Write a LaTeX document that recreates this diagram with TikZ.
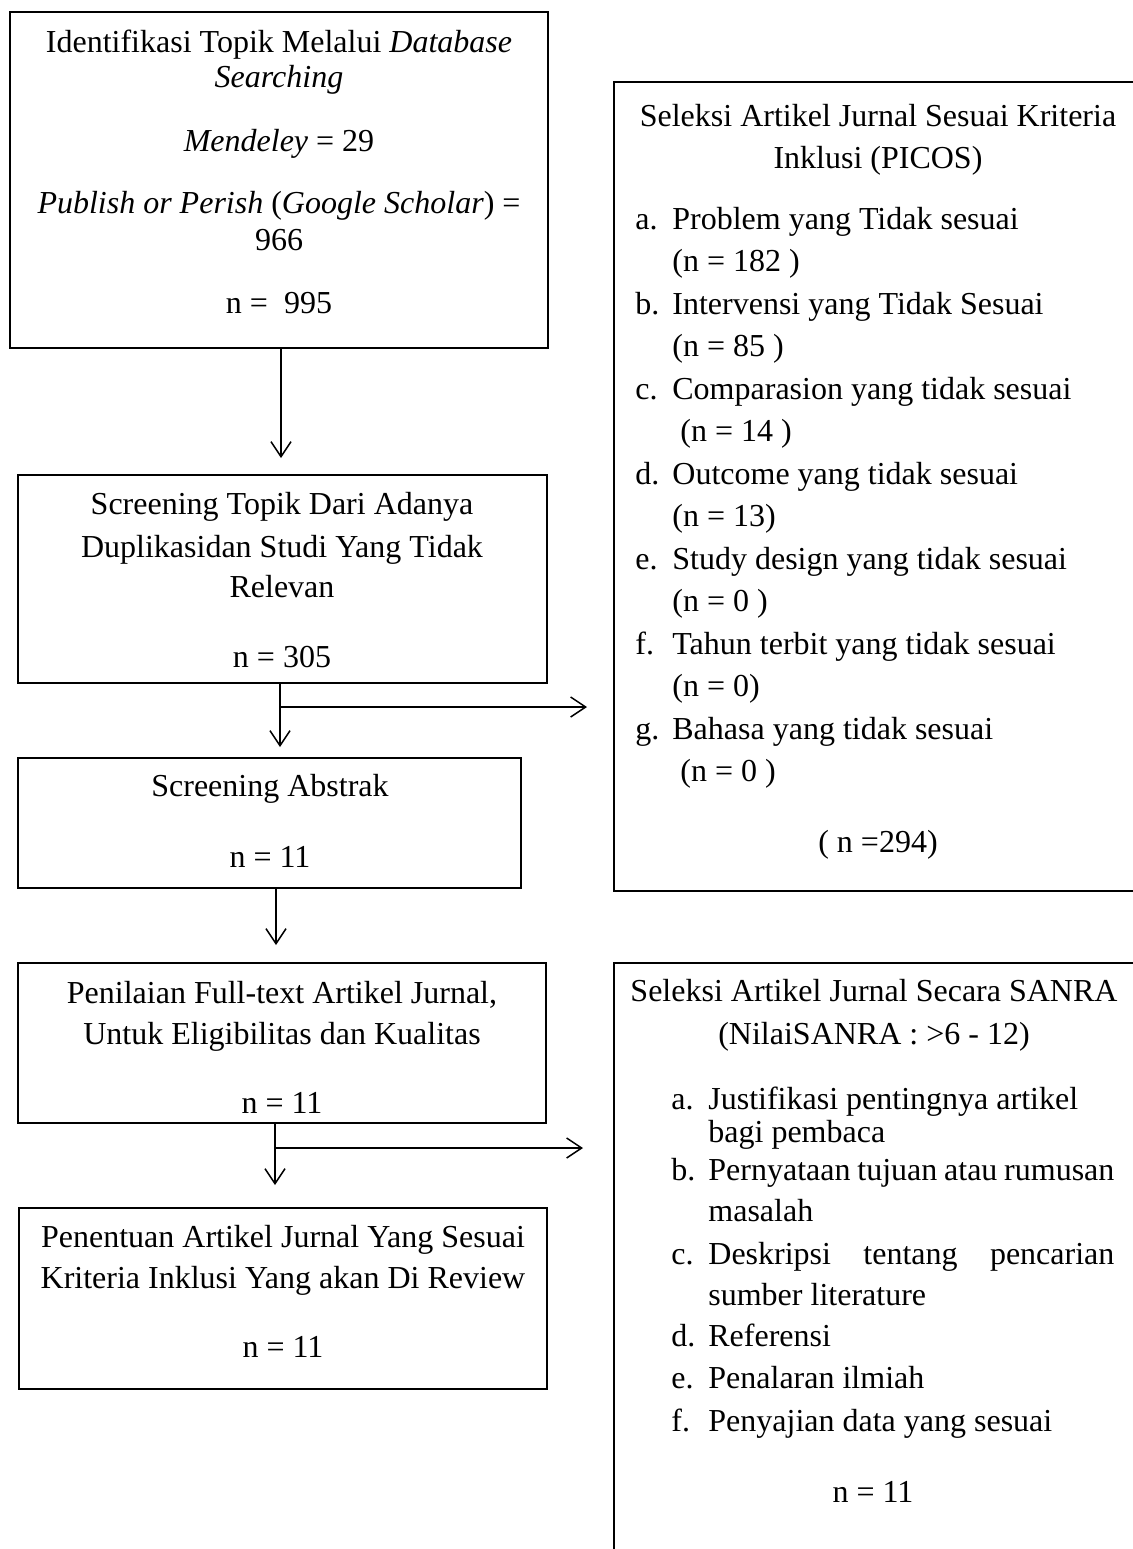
\documentclass[tikz,border=0pt]{standalone}
\usepackage{fontspec}
\setmainfont{Liberation Serif}
\usetikzlibrary{arrows.meta,fit}
\tikzset{
  boxst/.style={draw=black, line width=0.75pt, inner sep=0pt},
  arr/.style={line width=0.75pt, -{Straight Barb[length=7.5pt,width=10pt]}},
  tc/.style={anchor=base, inner sep=0pt, font=\fontsize{16}{19}\selectfont},
  tl/.style={anchor=base west, inner sep=0pt, font=\fontsize{16}{19}\selectfont},
}
\begin{document}
\begin{tikzpicture}[x=0.5pt,y=-0.5pt]
\useasboundingbox (0,0) rectangle (1133,1549);
\fill[white] (0,0) rectangle (1133,1549);
\clip (0,0) rectangle (1133,1549);

% ---------- left column boxes ----------
\node[boxst, fit={(10,12) (548,348)}] (b1) {};
\node[boxst, fit={(18,475) (547,683)}] (b2) {};
\node[boxst, fit={(18,758) (521,888)}] (b3) {};
\node[boxst, fit={(18,963) (546,1123)}] (b4) {};
\node[boxst, fit={(19,1208) (547,1389)}] (b5) {};

% ---------- right column boxes ----------
\node[boxst, fit={(614,82) (1200,891)}] (picos) {};
\node[boxst, fit={(614,963) (1200,1620)}] (sanra) {};

% ---------- connectors ----------
\coordinate (t1) at (281,458);
\draw[arr] (b1.south -| t1) -- (t1);

\coordinate (t2) at (280,747);
\coordinate (j2) at (280,707);
\coordinate (e2) at (587,707);
\draw[arr] (b2.south -| t2) -- (t2);
\draw[arr] (j2) -- (e2);

\coordinate (t3) at (276,945);
\draw[arr] (b3.south -| t3) -- (t3);

\coordinate (t4) at (275,1185);
\coordinate (j4) at (275,1148);
\coordinate (e4) at (583,1148);
\draw[arr] (b4.south -| t4) -- (t4);
\draw[arr] (j4) -- (e4);

% ---------- box 1 text ----------
\node[tc] (l1a) at (279,52) {Identifikasi Topik Melalui \textit{Database}};
\node[tc] (l1b) at (279,87) {\textit{Searching}};
\node[tc] (l1c) at (279,151) {\textit{Mendeley} = 29};
\node[tc] (l1d) at (279,213) {\textit{Publish or Perish} (\textit{Google Scholar}) =};
\node[tc] (l1e) at (279,250) {966};
\node[tc] (l1f) at (279,313) {n =\ \ 995};

% ---------- box 2 text ----------
\node[tc] (l2a) at (282,514) {Screening Topik Dari Adanya};
\node[tc] (l2b) at (282,557) {Duplikasidan Studi Yang Tidak};
\node[tc] (l2c) at (282,597) {Relevan};
\node[tc] (l2d) at (282,667) {n = 305};

% ---------- box 3 text ----------
\node[tc] (l3a) at (270,796) {Screening Abstrak};
\node[tc] (l3b) at (270,867) {n = 11};

% ---------- box 4 text ----------
\node[tc] (l4a) at (282,1003) {Penilaian Full-text Artikel Jurnal,};
\node[tc] (l4b) at (282,1044) {Untuk Eligibilitas dan Kualitas};
\node[tc] (l4c) at (282,1113) {n = 11};

% ---------- box 5 text ----------
\node[tc] (l5a) at (283,1247) {Penentuan Artikel Jurnal Yang Sesuai};
\node[tc] (l5b) at (283,1288) {Kriteria Inklusi Yang akan Di Review};
\node[tc] (l5c) at (283,1357) {n = 11};

% ---------- PICOS text ----------
\node[tc] (p0a) at (878,126) {Seleksi Artikel Jurnal Sesuai Kriteria};
\node[tc] (p0b) at (878,168) {Inklusi (PICOS)};
\node[tl] (pla) at (635,229) {a.};
\node[tl] (pta) at (672,229) {Problem yang Tidak sesuai};
\node[tl] (pna) at (672,271) {(n = 182 )};
\node[tl] (plb) at (635,314) {b.};
\node[tl] (ptb) at (672,314) {Intervensi yang Tidak Sesuai};
\node[tl] (pnb) at (672,356) {(n = 85 )};
\node[tl] (plc) at (635,399) {c.};
\node[tl] (ptc) at (672,399) {Comparasion yang tidak sesuai};
\node[tl] (pnc) at (680,441) {(n = 14 )};
\node[tl] (pld) at (635,484) {d.};
\node[tl] (ptd) at (672,484) {Outcome yang tidak sesuai};
\node[tl] (pnd) at (672,526) {(n = 13)};
\node[tl] (ple) at (635,569) {e.};
\node[tl] (pte) at (672,569) {Study design yang tidak sesuai};
\node[tl] (pne) at (672,611) {(n = 0 )};
\node[tl] (plf) at (635,654) {f.};
\node[tl] (ptf) at (672,654) {Tahun terbit yang tidak sesuai};
\node[tl] (pnf) at (672,696) {(n = 0)};
\node[tl] (plg) at (635,739) {g.};
\node[tl] (ptg) at (672,739) {Bahasa yang tidak sesuai};
\node[tl] (png) at (680,781) {(n = 0 )};
\node[tc] (ptot) at (878,852) {( n =294)};

% ---------- SANRA text ----------
\node[tc] (s0a) at (874,1001) {Seleksi Artikel Jurnal Secara SANRA};
\node[tc] (s0b) at (874,1044) {(NilaiSANRA : >6 - 12)};
\node[tl] (sla) at (671,1109) {a.};
\node[tl] (sta) at (708,1109) {Justifikasi pentingnya artikel};
\node[tl] (sta2) at (708,1142) {bagi pembaca};
\node[tl] (slb) at (671,1180) {b.};
\node[tl] (stb) at (708,1180) {\makebox[203pt][s]{Pernyataan tujuan atau rumusan}};
\node[tl] (stb2) at (708,1221) {masalah};
\node[tl] (slc) at (671,1264) {c.};
\node[tl] (stc) at (708,1264) {\makebox[203pt][s]{Deskripsi tentang pencarian}};
\node[tl] (stc2) at (708,1305) {sumber literature};
\node[tl] (sld) at (671,1346) {d.};
\node[tl] (std) at (708,1346) {Referensi};
\node[tl] (sle) at (671,1388) {e.};
\node[tl] (ste) at (708,1388) {Penalaran ilmiah};
\node[tl] (slf) at (671,1431) {f.};
\node[tl] (stf) at (708,1431) {Penyajian data yang sesuai};
\node[tc] (stot) at (873,1502) {n = 11};
\end{tikzpicture}
\end{document}
